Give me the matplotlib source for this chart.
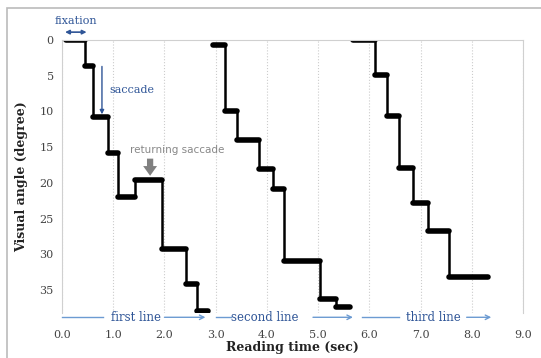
import numpy as np
import matplotlib.pyplot as plt
from matplotlib.patches import Rectangle

# fixations: start time, end time, visual angle (degree)
fix_start = [0.08, 0.45, 0.61, 0.90, 1.10, 1.43, 1.96, 2.42, 2.64,
             2.95, 3.18, 3.42, 3.85, 4.12, 4.34, 5.04, 5.35,
             5.68, 6.11, 6.34, 6.57, 6.86, 7.15, 7.56]
fix_end = [0.45, 0.61, 0.90, 1.10, 1.43, 1.96, 2.42, 2.64, 2.86,
           3.18, 3.42, 3.85, 4.12, 4.34, 5.04, 5.35, 5.63,
           6.11, 6.34, 6.57, 6.86, 7.15, 7.56, 8.32]
fix_angle = [0.0, 3.6, 10.8, 15.8, 22.0, 19.6, 29.3, 34.1, 37.9,
             0.7, 9.9, 14.0, 18.0, 20.9, 30.9, 36.2, 37.3,
             0.0, 4.9, 10.6, 17.9, 22.8, 26.7, 33.1]
line_id = [1]*9 + [2]*8 + [3]*7

x_ticks = [0, 1, 2, 3, 4, 5, 6, 7, 8, 9]
y_ticks = [0, 5, 10, 15, 20, 25, 30, 35]

plt.rcParams['font.family'] = ['DejaVu Serif']
fig = plt.figure(figsize=(5.41, 3.58), dpi=100)
ax = fig.add_axes([62/541, 1-313/358, (523-62)/541, (313-40)/358])

# steps within each text line
for ln in [1, 2, 3]:
	idx = [i for i in range(len(line_id)) if line_id[i] == ln]
	for a, b in zip(idx[:-1], idx[1:]):
		ax.plot([fix_end[a], fix_end[a]], [fix_angle[a], fix_angle[b]], color='black', lw=1.8, solid_capstyle='butt')
for s, e, y in zip(fix_start, fix_end, fix_angle):
	ax.plot([s, e], [y, y], color='black', lw=4, solid_capstyle='round')

ax.set_xlim(0, 9)
ax.set_ylim(38.2, 0)
ax.set_xticks(x_ticks)
ax.set_xticklabels(['%.1f' % v for v in x_ticks])
ax.set_yticks(y_ticks)
ax.tick_params(length=0, labelsize=8, labelcolor='#444444', pad=6)
ax.tick_params(axis='x', pad=12)
ax.xaxis.grid(True, color='#cccccc', ls=':', lw=0.8)
for sp in ['top', 'right', 'left']:
	ax.spines[sp].set_color('#d0d0d0')
ax.spines['bottom'].set_visible(False)

ax.set_xlabel('Reading time (sec)', fontsize=9, fontweight='bold', color='#222222', labelpad=1)
ax.set_ylabel('Visual angle (degree)', fontsize=9, fontweight='bold', color='#222222', labelpad=8)

blue = '#2f5597'
lblue = '#6c9bd2'
# fixation annotation
ax.annotate('', xy=(0.06, -1.1), xytext=(0.48, -1.1), annotation_clip=False,
	arrowprops=dict(arrowstyle='<|-|>', color=blue, lw=1.2, mutation_scale=6, shrinkA=0, shrinkB=0))
ax.text(0.27, -2.6, 'fixation', color=blue, fontsize=8, ha='center', va='center', clip_on=False)
# saccade annotation
ax.annotate('', xy=(0.78, 10.4), xytext=(0.78, 3.7),
	arrowprops=dict(arrowstyle='-|>', color=blue, lw=1.0, mutation_scale=6, shrinkA=0, shrinkB=0))
ax.text(0.93, 7.0, 'saccade', color=blue, fontsize=8, ha='left', va='center')
# returning saccade
ax.text(2.25, 15.4, 'returning saccade', color='#888888', fontsize=7.5, ha='center', va='center', family='DejaVu Sans')
ax.annotate('', xy=(1.72, 19.0), xytext=(1.72, 16.6),
	arrowprops=dict(arrowstyle='simple,head_width=1.0,head_length=0.7,tail_width=0.45', color='#808080', lw=0,
		shrinkA=0, shrinkB=0))

# line markers along the bottom
yb = 38.8
for x0, x1, xt, x2, x3, lbl in [(0.0, 0.8, 1.45, 2.0, 2.8, 'first line'),
                                 (3.0, 3.3, 3.96, 4.9, 5.68, 'second line'),
                                 (5.86, 6.58, 7.25, 7.9, 8.38, 'third line')]:
	ax.plot([x0, x1], [yb, yb], color=lblue, lw=1.0, clip_on=False)
	ax.annotate('', xy=(x3, yb), xytext=(x2, yb), annotation_clip=False,
		arrowprops=dict(arrowstyle='->', color=lblue, lw=1.0, mutation_scale=8, shrinkA=0, shrinkB=0))
	ax.text(xt, yb, lbl, color=blue, fontsize=8.5, ha='center', va='center', clip_on=False)

fig.patches.append(Rectangle((7/541, -0.1), 1.1, 1-8/358+0.1, transform=fig.transFigure,
	fill=False, edgecolor='#bbbbbb', lw=1.2))

fig.savefig('out.png', dpi=100)
